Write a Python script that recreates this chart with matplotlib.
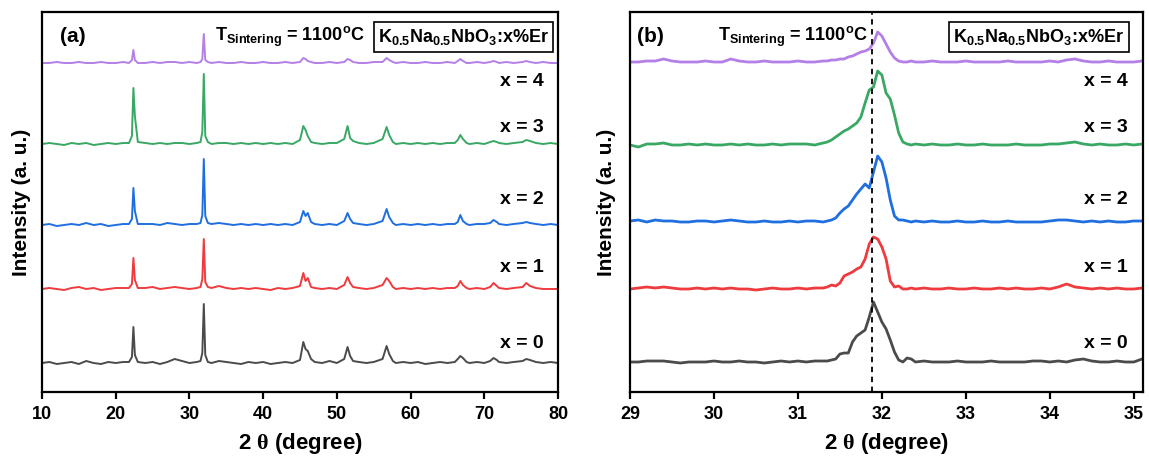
import matplotlib
matplotlib.use('Agg')
import matplotlib.pyplot as plt

plt.rcParams['font.family'] = ['Liberation Sans', 'DejaVu Sans']
plt.rcParams['font.weight'] = 'bold'
plt.rcParams['mathtext.fontset'] = 'custom'
plt.rcParams['mathtext.rm'] = 'Liberation Sans:bold'
plt.rcParams['mathtext.bf'] = 'Liberation Sans:bold'
plt.rcParams['mathtext.it'] = 'Liberation Sans:bold'
plt.rcParams['mathtext.sf'] = 'Liberation Serif'

# ---- data: panel (a), full 2theta scan (intensity above each baseline, a.u.)
two_theta_a = [10, 11, 12, 13, 14, 15, 16, 17, 18, 19, 20, 21,
               21.8, 22.2, 22.4, 22.6, 23.0,
               24, 25, 26, 27, 28, 29, 30, 31,
               31.5, 31.75, 31.95, 32.15, 32.5,
               33, 34, 35, 36, 37, 38, 39, 40, 41, 42, 43, 44,
               45.0, 45.45, 45.75, 46.05, 46.5, 47, 48, 49, 50,
               51.0, 51.45, 51.8, 52.2, 53, 54, 55,
               56.2, 56.75, 57.1, 57.6, 58, 59, 60, 61, 62, 63, 64, 65, 66,
               66.4, 66.75, 67.1, 67.6, 68, 69, 70,
               70.8, 71.25, 71.7, 72, 73, 74,
               75.2, 75.7, 76.2, 77, 78, 79, 80]

int_a_x0 = [0, 1, -1, 0, 1, -1, 2, 0, -1, 1, 0, 1,
            1, 6, 36, 8, 1,
            0, 1, -1, 1, 4, 2, 0, 1,
            2, 10, 59, 8, 1,
            0, 2, 1, 0, -1, 1, 0, 1, -1, 0, 1, 0,
            3, 21, 14, 12, 4, 1, 0, 2, 0,
            4, 16, 7, 2, 1, 0, 1,
            4, 17, 9, 2, 0, 1, 0, 1, -1, 0, 1, 0, 1,
            4, 7, 5, 1, 0, 1, 0,
            2, 5, 3, 1, 0, 1,
            2, 4, 3, 1, 0, 1, 0]
int_a_x1 = [0, 1, 0, -1, 1, 2, 0, 1, -1, 0, 1, 1,
            1, 5, 31, 9, 1,
            1, 2, 0, 1, 2, 1, 0, 1,
            2, 10, 50, 7, 2,
            1, 3, 1, 0, 1, 0, 1, 0, -1, 1, 0, 1,
            3, 16, 8, 11, 2, 1, 0, 1, 0,
            4, 12, 6, 2, 1, 0, 1,
            4, 11, 8, 2, 0, 1, 0, 1, 0, 1, 0, 1, 1,
            3, 8, 4, 1, 0, 1, 0,
            2, 6, 3, 1, 0, 1,
            2, 6, 3, 1, 0, 0, 0]
int_a_x2 = [0, 1, -1, 0, 1, 0, 2, 0, 1, -1, 0, 1,
            1, 6, 37, 14, 1,
            1, 1, 0, 2, 1, 0, 1, 1,
            2, 10, 66, 9, 2,
            1, 2, 1, 0, 1, 0, 1, 0, 1, 0, 1, 0,
            3, 14, 9, 12, 3, 1, 0, 1, 0,
            4, 12, 6, 2, 1, 0, 1,
            4, 16, 8, 2, 0, 1, 0, 1, 0, 1, 0, 1, 1,
            3, 10, 4, 1, 0, 1, 1,
            2, 5, 3, 1, 0, 1,
            2, 3, 2, 1, 0, 1, 0]
int_a_x3 = [0, 1, 0, -1, 1, 0, 1, -1, 0, 1, 0, 1,
            1, 8, 56, 28, 2,
            1, 0, 1, 0, 1, 1, 0, 1,
            2, 12, 70, 8, 2,
            0, 1, 1, 0, 1, 0, 1, 0, 1, 0, 1, 0,
            4, 18, 14, 8, 2, 1, 0, 1, 1,
            5, 18, 6, 3, 1, 0, 1,
            5, 17, 9, 2, 0, 1, 0, 1, 0, 1, 0, 1, 1,
            4, 9, 5, 1, 0, 1, 0,
            2, 3, 2, 1, 0, 1,
            2, 4, 3, 1, 0, 1, 0]
int_a_x4 = [0, 0, 1, 0, 0, 1, 0, 0, 1, 0, 0, 1,
            0, 3, 13, 3, 0,
            0, 1, 0, 1, 1, 0, 1, 0,
            1, 4, 29, 3, 1,
            0, 1, 0, 0, 1, 0, 0, 1, 0, 0, 1, 0,
            1, 5, 4, 2, 1, 0, 0, 1, 0,
            1, 4, 3, 1, 0, 0, 1,
            1, 5, 3, 1, 0, 1, 0, 0, 1, 0, 0, 1, 0,
            2, 4, 2, 0, 0, 1, 0,
            1, 2, 1, 0, 1, 0,
            1, 2, 1, 0, 1, 0, 0]

# ---- data: panel (b), zoom around the (110)/(002) peak
two_theta_b = [29.0, 29.1, 29.2, 29.3, 29.4, 29.5, 29.6, 29.7, 29.8, 29.9,
               30.0, 30.1, 30.2, 30.3, 30.4, 30.5, 30.6, 30.7, 30.8, 30.9,
               31.0, 31.1, 31.2, 31.3,
               31.35, 31.4, 31.45, 31.5, 31.55, 31.6, 31.65, 31.7, 31.75, 31.8,
               31.85, 31.9, 31.95, 32.0, 32.05, 32.1, 32.15, 32.2, 32.25, 32.3,
               32.35, 32.4,
               32.5, 32.6, 32.7, 32.8, 32.9, 33.0, 33.1, 33.2, 33.3, 33.4,
               33.5, 33.6, 33.7, 33.8, 33.9, 34.0, 34.1, 34.2, 34.3, 34.4,
               34.5, 34.6, 34.7, 34.8, 34.9, 35.0, 35.1]

int_b_x0 = [0, 0, 1, 1, 1, 0, -1, 0, 0, 0, 1, 0, 0, 1, 0, 0, -1, 0, 1, 0, 1, 0, 1, 1,
            1, 2, 3, 8, 9, 9, 20, 26, 29, 32, 45, 60, 50, 40, 33, 22, 10, 2, 0, 4, 3, 0,
            1, 0, 0, 0, 1, 0, 0, 0, 1, 0, 0, 0, 0, 1, 1, 0, 1, 0, 2, 3, 1, 0, 0, 1, 0, 0, 3]
int_b_x1 = [0, 1, 2, 1, 2, 1, 0, 0, 1, 0, 1, 0, 1, 0, 0, -1, 0, 1, 0, 0, 1, 0, 1, 1,
            2, 4, 3, 6, 13, 15, 17, 20, 22, 30, 45, 52, 50, 42, 30, 8, 2, 3, 0, 0, 1, 0,
            1, 0, 0, 1, 0, 0, 1, 0, 0, 1, 0, 1, 0, 0, 1, 0, 2, 5, 2, 1, 0, 1, 0, 1, 0, 0, 1]
int_b_x2 = [1, 2, 0, 2, 1, 1, 0, 0, 1, 1, 0, 1, 2, 1, 0, 0, 1, 0, 0, 1, 0, 1, 1, 0,
            1, 2, 4, 9, 13, 16, 22, 28, 33, 38, 34, 50, 66, 60, 44, 22, 6, 2, 2, 1, 0, 1,
            0, 1, 0, 0, 1, 0, 0, 1, 0, 0, 1, 0, 0, 0, 0, 1, 2, 2, 1, 0, 1, 0, 1, 0, 0, 1, 1]
int_b_x3 = [0, -2, 1, 1, 2, 0, 0, 1, 0, 1, 0, 0, 1, 0, 1, 0, 0, 1, 0, 1, 1, 1, 0, 2,
            3, 5, 8, 11, 14, 16, 19, 22, 28, 42, 55, 58, 74, 70, 52, 46, 30, 12, 3, 1, 0, 1,
            0, 1, 0, 0, 1, 0, 0, 1, 0, 0, 0, 1, 0, 0, 0, 1, 1, 2, 3, 1, 0, 1, 0, 0, 1, 0, 1]
int_b_x4 = [0, 0, 1, 1, 3, 1, 0, 0, 0, 1, 0, 0, 3, 1, 0, 0, 1, 0, 0, 0, 1, 0, 0, 1,
            1, 2, 2, 3, 3, 5, 6, 8, 10, 11, 13, 19, 30, 26, 18, 10, 4, 1, 0, 0, 1, 0,
            0, 1, 0, 0, 0, 1, 0, 0, 0, 0, 1, 0, 0, 0, 0, 1, 0, 2, 3, 1, 0, 0, 1, 0, 0, 0, 1]

labels = ['x = 0', 'x = 1', 'x = 2', 'x = 3', 'x = 4']
colors = ['#4b4b4b', '#ef3b3e', '#1f6fe0', '#3aa865', '#b47fe6']
offsets_a = [29, 103, 167, 248, 329]
offsets_b = [30, 103, 170, 247, 330]
label_y = [49, 124, 192, 264, 310]
dash_pos = 31.88

series_a = [int_a_x0, int_a_x1, int_a_x2, int_a_x3, int_a_x4]
series_b = [int_b_x0, int_b_x1, int_b_x2, int_b_x3, int_b_x4]

fig = plt.figure(figsize=(11.49, 4.59), dpi=100)
ax1 = fig.add_axes([42 / 1149, 67 / 459, 516 / 1149, 380 / 459])
ax2 = fig.add_axes([630 / 1149, 67 / 459, 513 / 1149, 380 / 459])


def style_axis(ax, xlim, ticks):
    ax.set_xlim(*xlim)
    ax.set_ylim(0, 380)
    ax.set_xticks(ticks)
    ax.set_yticks([])
    for s in ax.spines.values():
        s.set_linewidth(1.6)
    ax.tick_params(axis='x', direction='out', length=5, width=1.6,
                   labelsize=13, pad=5)
    for t in ax.get_xticklabels():
        t.set_fontweight('bold')
    ax.set_xlabel(r'2 $\mathsf{\theta}$ (degree)', fontsize=16, fontweight='bold', labelpad=6)
    ax.set_ylabel('Intensity (a. u.)', fontsize=15, fontweight='bold')


# panel (a)
for y, off, c in zip(series_a, offsets_a, colors):
    ax1.plot(two_theta_a, [v + off for v in y], color=c, lw=1.4)
for lab, ly in zip(labels, label_y):
    ax1.text(78, ly, lab, ha='right', va='center', fontsize=14, fontweight='bold')
style_axis(ax1, (10, 80), [10, 20, 30, 40, 50, 60, 70, 80])
ax1.yaxis.set_label_coords(-0.022, 0.5)
ax1.text(12.5, 355, '(a)', ha='left', va='center', fontsize=15, fontweight='bold')
ax1.text(33.5, 355, r'T$_{\rm Sintering}$ = 1100$^{\rm o}$C', ha='left', va='center',
         fontsize=13, fontweight='bold')
ax1.text(55.6, 355, r'K$_{\rm 0.5}$Na$_{\rm 0.5}$NbO$_{\rm 3}$:x%Er', ha='left', va='center',
         fontsize=13, fontweight='bold',
         bbox=dict(boxstyle='square,pad=0.25', fc='white', ec='black', lw=1.2))

# panel (b)
for y, off, c in zip(series_b, offsets_b, colors):
    ax2.plot(two_theta_b, [v + off for v in y], color=c, lw=2.0)
for lab, ly in zip(labels, label_y):
    ax2.text(34.93, ly, lab, ha='right', va='center', fontsize=14, fontweight='bold')
ax2.axvline(dash_pos, color='black', ls='--', lw=1.3, dashes=(3, 2.5))
style_axis(ax2, (29, 35.11), [29, 30, 31, 32, 33, 34, 35])
ax2.yaxis.set_label_coords(-0.028, 0.5)
ax2.text(29.08, 355, '(b)', ha='left', va='center', fontsize=15, fontweight='bold')
ax2.text(30.05, 355, r'T$_{\rm Sintering}$ = 1100$^{\rm o}$C', ha='left', va='center',
         fontsize=13, fontweight='bold')
ax2.text(32.85, 355, r'K$_{\rm 0.5}$Na$_{\rm 0.5}$NbO$_{\rm 3}$:x%Er', ha='left', va='center',
         fontsize=13, fontweight='bold',
         bbox=dict(boxstyle='square,pad=0.25', fc='white', ec='black', lw=1.2))

fig.savefig('out.png', dpi=100)
